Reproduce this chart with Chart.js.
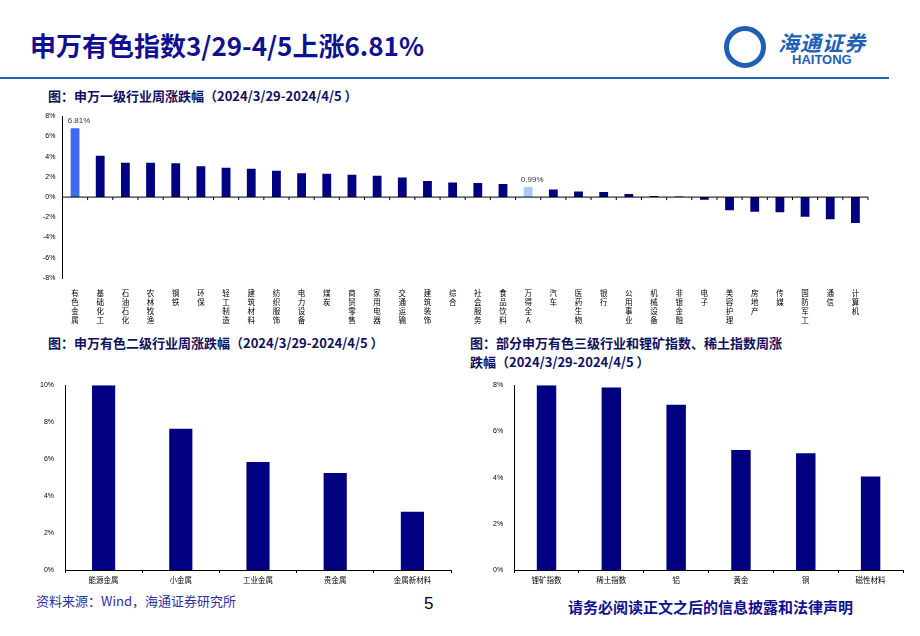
<!DOCTYPE html>
<html><head><meta charset="utf-8">
<script src="https://cdn.jsdelivr.net/npm/chart.js@4"></script>
<style>
body{margin:0;width:920px;height:636px;background:#fff;font-family:"Noto Sans CJK SC",sans-serif;position:relative;overflow:hidden}
.a{position:absolute}
</style></head><body>
<div class="a" style="left:30px;top:26px;font-size:26px;font-weight:bold;color:#101090;font-family:'Noto Sans CJK SC'">申万有色指数3/29-4/5上涨6.81%</div>
<div class="a" style="left:724px;top:26px;width:42px;height:42px;border-radius:50%;border:5px solid #1f5fb4;box-sizing:border-box"></div>
<div class="a" style="left:778px;top:27px;font-size:21px;color:#1f5fb4;font-style:italic;font-weight:bold;letter-spacing:1px">海通证券</div>
<div class="a" style="left:792px;top:52px;font-size:13px;color:#1f5fb4;font-weight:bold;font-family:'Liberation Sans'">HAITONG</div>
<div class="a" style="left:0;top:77px;width:889px;height:2px;background:#1f5fb4"></div>
<div class="a" style="left:48px;top:86px;font-size:13px;font-weight:bold;color:#101060">图：申万一级行业周涨跌幅（2024/3/29-2024/4/5 ）</div>
<div class="a" style="left:48px;top:333px;font-size:13px;font-weight:bold;color:#101060">图：申万有色二级行业周涨跌幅（2024/3/29-2024/4/5 ）</div>
<div class="a" style="left:470px;top:333px;width:420px;font-size:13px;font-weight:bold;color:#101060;line-height:19px">图：部分申万有色三级行业和锂矿指数、稀土指数周涨<br>跌幅（2024/3/29-2024/4/5 ）</div>
<div class="a" style="left:36px;top:591px;font-size:13px;color:#3030a0">资料来源：Wind，海通证券研究所</div>
<div class="a" style="left:424px;top:594px;font-size:17px;font-family:'Liberation Sans'">5</div>
<div class="a" style="left:568px;top:596px;font-size:15px;font-weight:bold;color:#101090">请务必阅读正文之后的信息披露和法律声明</div>
<div class="a" style="left:39px;top:108px;width:834px;height:220px"><canvas id="c1"></canvas></div>
<div class="a" style="left:37px;top:378px;width:418px;height:210px"><canvas id="c2"></canvas></div>
<div class="a" style="left:490px;top:378px;width:417px;height:210px"><canvas id="c3"></canvas></div>
<script>
const cats1=["有色金属","基础化工","石油石化","农林牧渔","钢铁","环保","轻工制造","建筑材料","纺织服饰","电力设备","煤炭","商贸零售","家用电器","交通运输","建筑装饰","综合","社会服务","食品饮料","万得全A","汽车","医药生物","银行","公用事业","机械设备","非银金融","电子","美容护理","房地产","传媒","国防军工","通信","计算机"];
const vals1=[6.81,4.1,3.4,3.4,3.35,3.05,2.9,2.8,2.6,2.35,2.3,2.2,2.1,1.95,1.6,1.45,1.4,1.3,0.99,0.75,0.55,0.5,0.3,0.1,0.05,-0.25,-1.3,-1.45,-1.5,-1.95,-2.2,-2.55];
const cats2=["能源金属","小金属","工业金属","贵金属","金属新材料"];
const vals2=[10.0,7.65,5.85,5.25,3.15];
const cats3=["锂矿指数","稀土指数","铝","黄金","铜","磁性材料"];
const vals3=[8.0,7.9,7.15,5.2,5.05,4.05];
const F="'Noto Sans CJK SC'";
Chart.defaults.animation=false;
Chart.defaults.font.family="Liberation Sans";
const navy="#000080";
const colors1=cats1.map(c=>c==="有色金属"?"#3b6cf0":c==="万得全A"?"#a6cdf7":navy);
const labPlugin={id:"lab",afterDatasetsDraw(ch){const ctx=ch.ctx;const m=ch.getDatasetMeta(0);ctx.save();ctx.font="8px Liberation Sans";ctx.fillStyle="#333";ctx.textAlign="center";
[0,18].forEach(i=>{const e=m.data[i];ctx.fillText(vals1[i].toFixed(2)+"%",e.x+4,e.y-5);});
const x=ch.scales.x,y=ch.scales.y,y0=y.getPixelForValue(0);ctx.strokeStyle="#000";ctx.lineWidth=1;ctx.beginPath();ctx.moveTo(x.left,y0);ctx.lineTo(x.right,y0);
for(let i=0;i<=cats1.length;i++){const px=x.left+(x.right-x.left)*i/cats1.length;ctx.moveTo(px,y0);ctx.lineTo(px,y0+3);}ctx.stroke();ctx.restore();}};
new Chart(document.getElementById("c1"),{type:"bar",data:{labels:cats1.map(c=>c.split("")),datasets:[{data:vals1,backgroundColor:colors1,barPercentage:0.35,categoryPercentage:1}]},
options:{responsive:true,maintainAspectRatio:false,layout:{padding:{top:4,right:5}},plugins:{legend:{display:false},tooltip:{enabled:false}},
scales:{y:{min:-8,max:8,ticks:{stepSize:2,callback:v=>v+"%",font:{size:7},color:"#000",padding:4},grid:{display:false,drawTicks:true,tickLength:3},border:{color:"#000"}},
x:{grid:{display:false},border:{display:false},ticks:{autoSkip:false,maxRotation:0,font:{family:F,size:7.5},color:"#000",padding:3}}}},plugins:[labPlugin]});
function small(id,cats,vals,max){new Chart(document.getElementById(id),{type:"bar",data:{labels:cats,datasets:[{data:vals,backgroundColor:navy,barPercentage:0.3,categoryPercentage:1}]},
options:{responsive:true,maintainAspectRatio:false,layout:{padding:{top:4,right:4}},plugins:{legend:{display:false},tooltip:{enabled:false}},
scales:{y:{min:0,max:max,ticks:{stepSize:2,callback:v=>v+"%",font:{size:7},color:"#000"},grid:{display:false},border:{color:"#000"}},
x:{grid:{display:true,drawOnChartArea:false,offset:true,tickLength:3,color:"#000"},border:{color:"#000"},ticks:{font:{family:F,size:7.5},color:"#000"}}}}});}
small("c2",cats2,vals2,10);
small("c3",cats3,vals3,8);
</script></body></html>
